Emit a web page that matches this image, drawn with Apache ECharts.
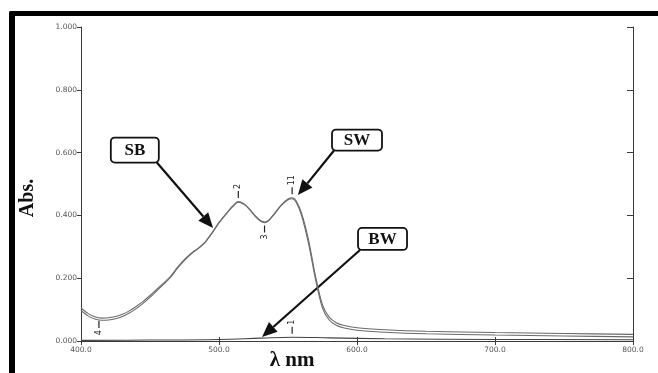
<!DOCTYPE html>
<html>
<head>
<meta charset="utf-8">
<script src="https://cdn.jsdelivr.net/npm/echarts@6/dist/echarts.min.js"></script>
<style>
  html, body { margin: 0; padding: 0; background: #fff; }
  #chart { width: 658px; height: 373px; }
</style>
</head>
<body>
<div id="chart"></div>
<script>
// Absorption spectra (wavelength in nm, absorbance)
const wavelengths = [400, 405, 410, 415, 420, 425, 430, 435, 440, 445, 450, 455, 460, 465, 470,
  475, 480, 485, 490, 495, 500, 505, 510, 514, 518, 522, 526, 530, 533, 536, 540, 545, 550,
  553, 556, 560, 565, 570, 575, 580, 585, 590, 600, 620, 650, 700, 750, 800];
const sbAbs = [0.105, 0.088, 0.077, 0.073, 0.074, 0.078, 0.085, 0.096, 0.110, 0.126, 0.145,
  0.165, 0.185, 0.207, 0.235, 0.260, 0.280, 0.296, 0.316, 0.345, 0.378, 0.405, 0.430,
  0.444, 0.437, 0.421, 0.400, 0.384, 0.379, 0.385, 0.405, 0.433, 0.452, 0.456, 0.446,
  0.405, 0.320, 0.205, 0.115, 0.075, 0.058, 0.050,
  0.042, 0.036, 0.031, 0.027, 0.024, 0.021];
const swAbs = [0.097, 0.080, 0.070, 0.066, 0.067, 0.071, 0.078, 0.089, 0.103, 0.120, 0.139,
  0.160, 0.181, 0.203, 0.232, 0.257, 0.278, 0.294, 0.314, 0.343, 0.376, 0.403, 0.428,
  0.442, 0.435, 0.419, 0.398, 0.382, 0.377, 0.383, 0.403, 0.431, 0.450, 0.453, 0.441,
  0.397, 0.308, 0.195, 0.105, 0.066, 0.050, 0.042,
  0.034, 0.028, 0.023, 0.019, 0.016, 0.013];
const bwWavelengths = [400, 450, 500, 530, 553, 580, 620, 700, 800];
const bwAbs = [0.002, 0.003, 0.005, 0.009, 0.012, 0.010, 0.007, 0.005, 0.004];

// Peak-pick annotations: series, wavelength, label, side of the trace
const peakPicks = [
  { series: 'SB', nm: 413, text: '4', side: 'below' },
  { series: 'SB', nm: 514, text: '2', side: 'above' },
  { series: 'SB', nm: 533, text: '3', side: 'below' },
  { series: 'SB', nm: 553, text: '11', side: 'above' },
  { series: 'BW', nm: 553, text: '1', side: 'above' }
];

// Callout boxes (box centre and arrow tip in data coordinates)
const callouts = [
  { text: 'SB', box: [439, 0.608], size: [48, 25], tip: [495.7, 0.360], corner: 'br' },
  { text: 'SW', box: [600, 0.640], size: [50, 21], tip: [557.2, 0.465], corner: 'bl' },
  { text: 'BW', box: [618.5, 0.325], size: [49, 22], tip: [531.2, 0.013], corner: 'bl' }
];

const seriesData = {
  SB: [wavelengths, sbAbs],
  SW: [wavelengths, swAbs],
  BW: [bwWavelengths, bwAbs]
};

function pairs(xs, ys) { return xs.map((x, i) => [x, ys[i]]); }
function valueAt(name, nm) {
  const [xs, ys] = seriesData[name];
  for (let i = 0; i < xs.length - 1; i++) {
    if (nm >= xs[i] && nm <= xs[i + 1]) {
      const t = (nm - xs[i]) / (xs[i + 1] - xs[i]);
      return ys[i] + t * (ys[i + 1] - ys[i]);
    }
  }
  return ys[ys.length - 1];
}
function marksFor(name) {
  return peakPicks.filter(p => p.series === name).map(p => {
    const above = p.side === 'above';
    return {
      coord: [p.nm, valueAt(name, p.nm)],
      symbol: 'rect',
      symbolSize: [1.2, 7],
      symbolOffset: [0, above ? -7 : 7],
      itemStyle: { color: '#222' },
      label: {
        show: true, formatter: p.text, rotate: 90,
        position: above ? 'top' : 'bottom', distance: 2,
        align: above ? 'left' : 'right', verticalAlign: 'middle',
        fontSize: 8, color: '#222', fontFamily: 'DejaVu Sans'
      }
    };
  });
}

const chart = echarts.init(document.getElementById('chart'), null, { renderer: 'canvas' });
const axisLine = { show: true, lineStyle: { color: '#3a3a3a', width: 1 } };
const tickLabel = { color: '#555', fontSize: 7.5, fontFamily: 'DejaVu Sans' };

chart.setOption({
  animation: false,
  backgroundColor: '#fff',
  grid: { left: 81, right: 25, top: 27, bottom: 32 },
  xAxis: [
    {
      type: 'value', min: 400, max: 800, interval: 100, position: 'bottom',
      axisLine, splitLine: { show: false },
      axisTick: { show: true, inside: true, length: 4, lineStyle: { color: '#3a3a3a' } },
      axisLabel: Object.assign({ margin: 5, formatter: v => v.toFixed(1) }, tickLabel)
    },
    {
      type: 'value', min: 400, max: 800, interval: 100, position: 'top',
      axisLine, splitLine: { show: false },
      axisTick: { show: true, inside: true, length: 4, lineStyle: { color: '#3a3a3a' } },
      axisLabel: { show: false }
    }
  ],
  yAxis: [
    {
      type: 'value', min: 0, max: 1, interval: 0.2, position: 'left',
      axisLine, splitLine: { show: false },
      axisTick: { show: true, inside: false, length: 4, lineStyle: { color: '#3a3a3a' } },
      axisLabel: Object.assign({ margin: 4, formatter: v => v.toFixed(3) }, tickLabel)
    },
    {
      type: 'value', min: 0, max: 1, interval: 0.2, position: 'right',
      axisLine, splitLine: { show: false },
      axisTick: { show: true, inside: true, length: 6, lineStyle: { color: '#3a3a3a' } },
      axisLabel: { show: false }
    }
  ],
  series: [
    {
      name: 'SB', type: 'line', smooth: 0.3, symbol: 'none',
      data: pairs(wavelengths, sbAbs),
      lineStyle: { color: '#6a6a6a', width: 1.1 },
      markPoint: { data: marksFor('SB') }
    },
    {
      name: 'SW', type: 'line', smooth: 0.3, symbol: 'none',
      data: pairs(wavelengths, swAbs),
      lineStyle: { color: '#6a6a6a', width: 1.1 }
    },
    {
      name: 'BW', type: 'line', smooth: 0.4, symbol: 'none',
      data: pairs(bwWavelengths, bwAbs),
      lineStyle: { color: '#444', width: 1.1 },
      markPoint: { data: marksFor('BW') }
    }
  ]
});

// Frame, axis titles and callouts
const graphics = [
  { type: 'rect', shape: { x: 9, y: 11, width: 649, height: 5, r: [2, 0, 0, 0] }, style: { fill: '#000' } },
  { type: 'rect', shape: { x: 9, y: 11, width: 6, height: 362, r: [2, 0, 0, 0] }, style: { fill: '#000' } },
  {
    type: 'text', x: 28, y: 198, rotation: Math.PI / 2,
    style: { text: 'Abs.', font: 'bold 20px "Liberation Serif"', fill: '#111', align: 'center', verticalAlign: 'middle' }
  },
  {
    type: 'text', x: 292, y: 361,
    style: { text: 'λ nm', font: 'bold 21px "Liberation Serif"', fill: '#111', align: 'center', verticalAlign: 'middle' }
  }
];

callouts.forEach(c => {
  const [cx, cy] = chart.convertToPixel({ xAxisIndex: 0, yAxisIndex: 0 }, c.box);
  const [tx, ty] = chart.convertToPixel({ xAxisIndex: 0, yAxisIndex: 0 }, c.tip);
  const [w, h] = c.size;
  const sx = c.corner[1] === 'r' ? cx + w / 2 - 2 : cx - w / 2 + 2;
  const sy = c.corner[0] === 'b' ? cy + h / 2 : cy - h / 2;
  const dx = tx - sx, dy = ty - sy, len = Math.hypot(dx, dy);
  const ux = dx / len, uy = dy / len;
  const headLen = 15, headHalf = 6.5;
  const bx = tx - ux * headLen, by = ty - uy * headLen;
  graphics.push({
    type: 'line', shape: { x1: sx, y1: sy, x2: bx, y2: by },
    style: { stroke: '#111', lineWidth: 2.2 }
  });
  graphics.push({
    type: 'polygon',
    shape: { points: [[tx, ty], [bx - uy * headHalf, by + ux * headHalf], [bx + uy * headHalf, by - ux * headHalf]] },
    style: { fill: '#111' }
  });
  graphics.push({
    type: 'rect', shape: { x: cx - w / 2, y: cy - h / 2, width: w, height: h, r: 4 },
    style: { fill: '#fff', stroke: '#111', lineWidth: 1.8 }
  });
  graphics.push({
    type: 'text', x: cx, y: cy + 1,
    style: { text: c.text, font: 'bold 17px "Liberation Serif"', fill: '#111', align: 'center', verticalAlign: 'middle' }
  });
});

chart.setOption({ graphic: graphics });
</script>
</body>
</html>
